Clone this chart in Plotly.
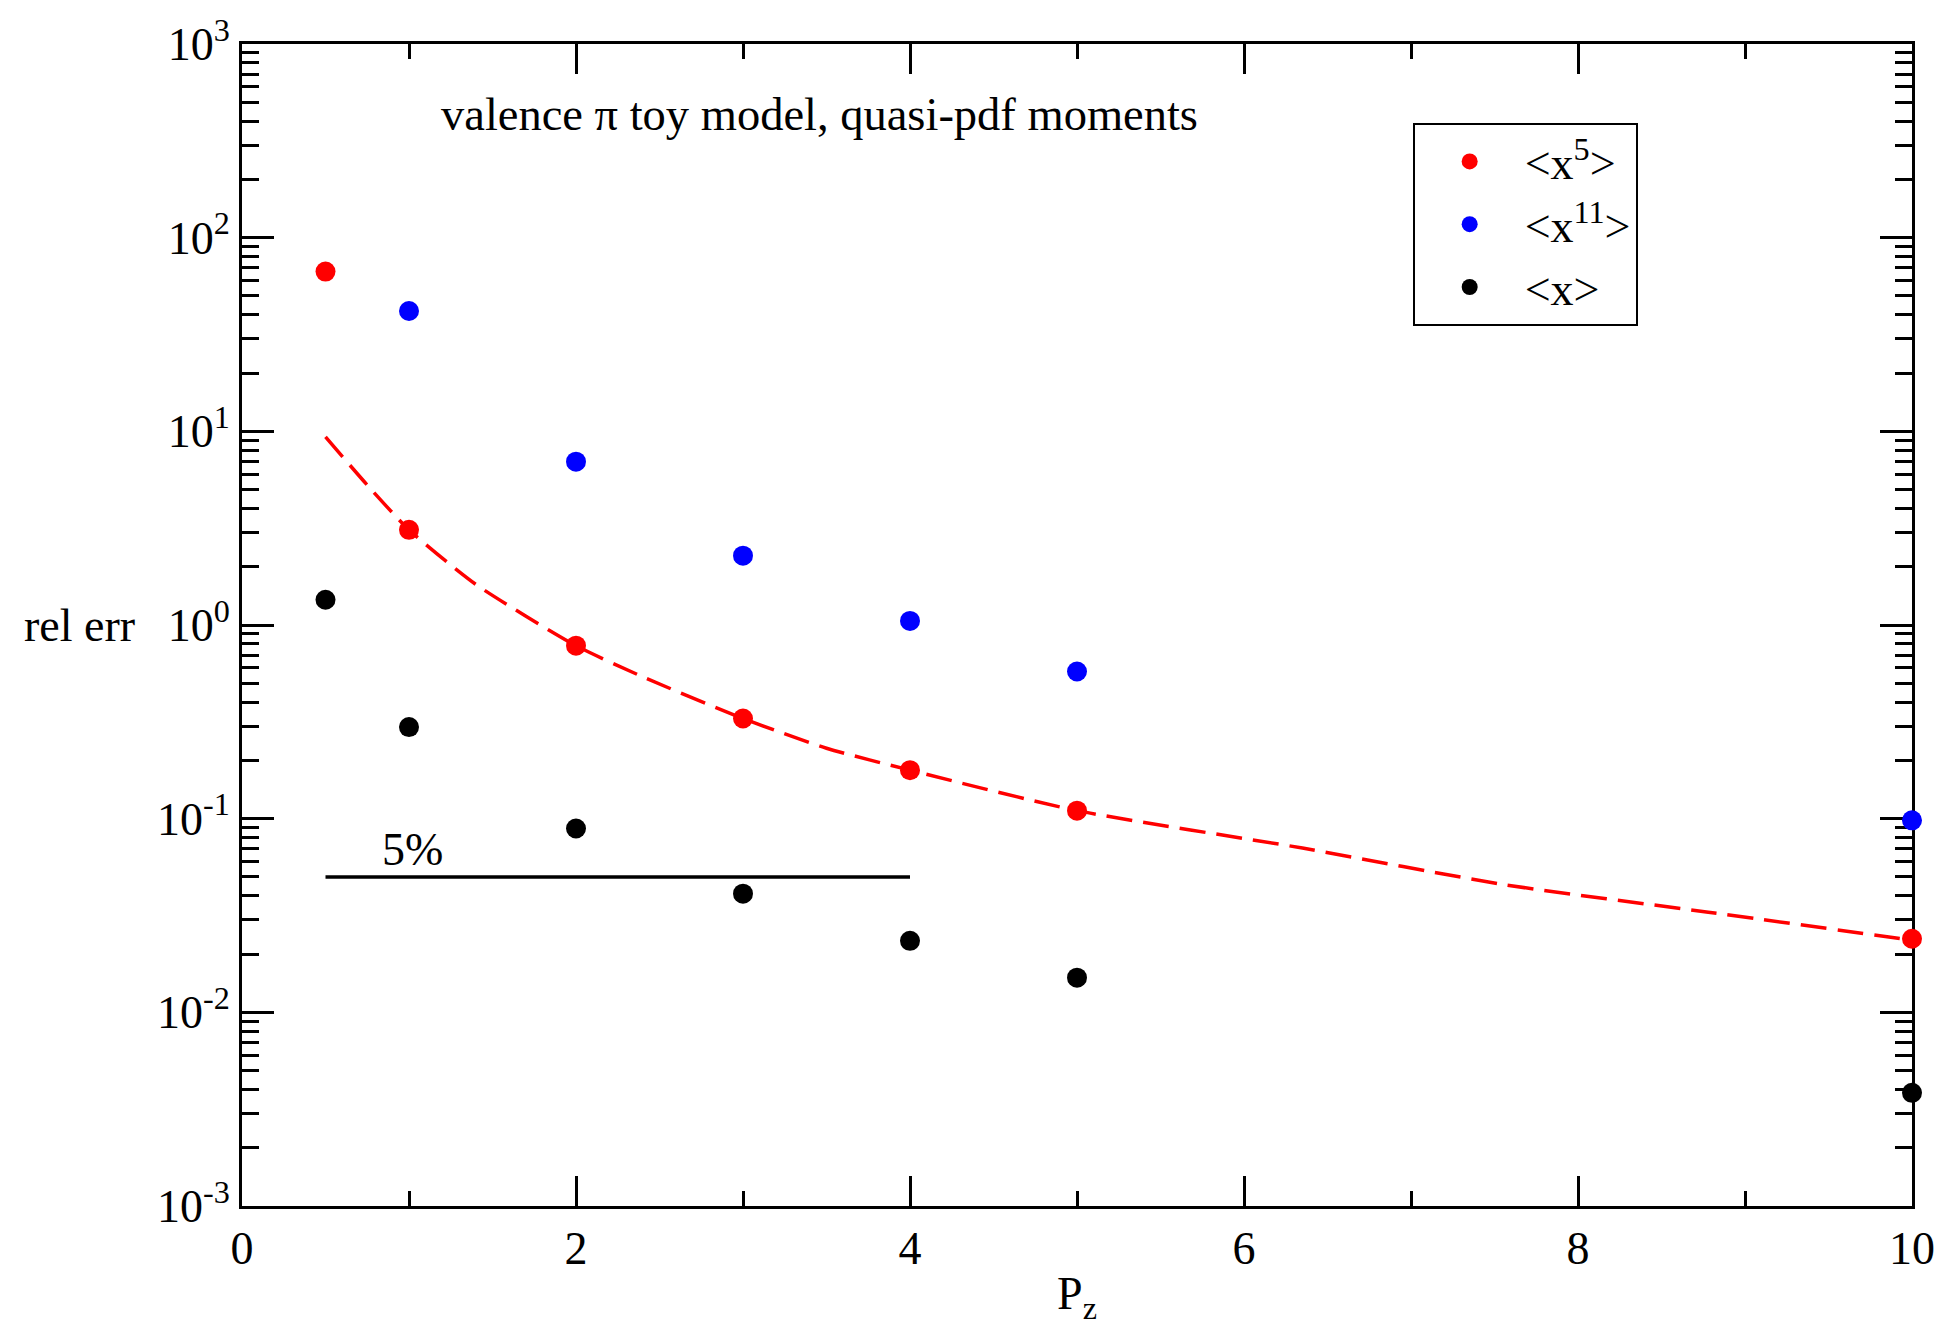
import plotly.graph_objects as go

# ---- data ----
pz_x5 = [0.5, 1, 2, 3, 4, 5, 10]
rel_err_x5 = [66.8, 3.10, 0.782, 0.329, 0.178, 0.110, 0.024]

pz_x11 = [1, 2, 3, 4, 5, 10]
rel_err_x11 = [41.8, 6.97, 2.28, 1.05, 0.575, 0.098]

pz_x1 = [0.5, 1, 2, 3, 4, 5, 10]
rel_err_x1 = [1.35, 0.297, 0.089, 0.041, 0.0234, 0.0151, 0.00384]

fit_pz = [0.5, 0.75, 1.0, 1.4, 2.0, 2.4, 3.0, 3.5, 4.0, 5.0, 6.35, 7.56, 8.78, 10.0]
fit_val = [9.36, 5.28, 3.10, 1.62, 0.782, 0.54, 0.329, 0.231, 0.178, 0.110, 0.0705, 0.0456, 0.0329, 0.0236]

five_pct_x = [0.5, 4.0]
five_pct_y = [0.05, 0.05]

y_tickvals = [1e-3, 1e-2, 1e-1, 1e0, 1e1, 1e2, 1e3]
y_ticktext = ["10<sup>-3</sup>", "10<sup>-2</sup>", "10<sup>-1</sup>", "10<sup>0</sup>",
              "10<sup>1</sup>", "10<sup>2</sup>", "10<sup>3</sup>"]
y_minor_vals = [m * 10.0 ** e for e in range(-3, 3) for m in range(2, 10)]

FONT = "Liberation Serif"
FS = 46

fig = go.Figure()

fig.add_trace(go.Scatter(x=fit_pz, y=fit_val, mode="lines",
                         line=dict(color="#ff0000", width=3.5, dash="26px,11px", shape="spline", smoothing=0.6),
                         showlegend=False, hoverinfo="skip"))
fig.add_trace(go.Scatter(x=five_pct_x, y=five_pct_y, mode="lines",
                         line=dict(color="black", width=3.5), showlegend=False))

fig.add_trace(go.Scatter(x=pz_x5, y=rel_err_x5, mode="markers", name="&lt;x<sup>5</sup>&gt;",
                         marker=dict(color="#ff0000", size=20), cliponaxis=False))
fig.add_trace(go.Scatter(x=pz_x11, y=rel_err_x11, mode="markers", name="&lt;x<sup>11</sup>&gt;",
                         marker=dict(color="#0000ff", size=20), cliponaxis=False))
fig.add_trace(go.Scatter(x=pz_x1, y=rel_err_x1, mode="markers", name="&lt;x&gt;",
                         marker=dict(color="black", size=20), cliponaxis=False))

fig.update_layout(
    width=1947, height=1326,
    margin=dict(l=242, r=32, t=38, b=119),
    paper_bgcolor="white", plot_bgcolor="white",
    font=dict(family=FONT, size=FS, color="black"),
    legend=dict(x=0.701, y=0.932, xanchor="left", yanchor="top",
                bordercolor="black", borderwidth=2, bgcolor="white", itemwidth=100,
                font=dict(family=FONT, size=FS, color="black"), tracegroupgap=0),
)

fig.update_xaxes(
    range=[0, 10], dtick=2, tick0=0,
    showline=True, linecolor="black", linewidth=3, mirror="allticks",
    ticks="inside", ticklen=30, tickwidth=2.5, tickcolor="black",
    showgrid=False, zeroline=False, layer="below traces",
    tickfont=dict(family=FONT, size=FS),
    minor=dict(ticks="inside", dtick=1, ticklen=15, tickwidth=2.5, tickcolor="black", showgrid=False),
    title=dict(text="P<sub>z</sub>", font=dict(family=FONT, size=FS), standoff=8),
)
fig.update_yaxes(
    type="log", range=[-3, 3],
    tickvals=y_tickvals, ticktext=y_ticktext,
    showline=True, linecolor="black", linewidth=3, mirror="allticks",
    ticks="inside", ticklen=32, tickwidth=2.5, tickcolor="black",
    showgrid=False, zeroline=False, layer="below traces",
    tickfont=dict(family=FONT, size=FS),
    minor=dict(ticks="inside", tickvals=y_minor_vals, ticklen=17, tickwidth=2.5, tickcolor="black", showgrid=False),
)

fig.add_annotation(text="rel err", xref="paper", yref="y", x=-0.0628, y=0,
                   xanchor="right", yanchor="middle", showarrow=False,
                   font=dict(family=FONT, size=FS))
fig.add_annotation(text="valence \u03c0 toy model, quasi-pdf moments", xref="paper", yref="paper",
                   x=0.118, y=0.939, xanchor="left", yanchor="middle", showarrow=False,
                   font=dict(family=FONT, size=46.5))
fig.add_annotation(text="5%", xref="x", yref="y", x=1.02, y=-1.157,
                   xanchor="center", yanchor="middle", showarrow=False,
                   font=dict(family=FONT, size=FS))

fig.write_html("out.html")
